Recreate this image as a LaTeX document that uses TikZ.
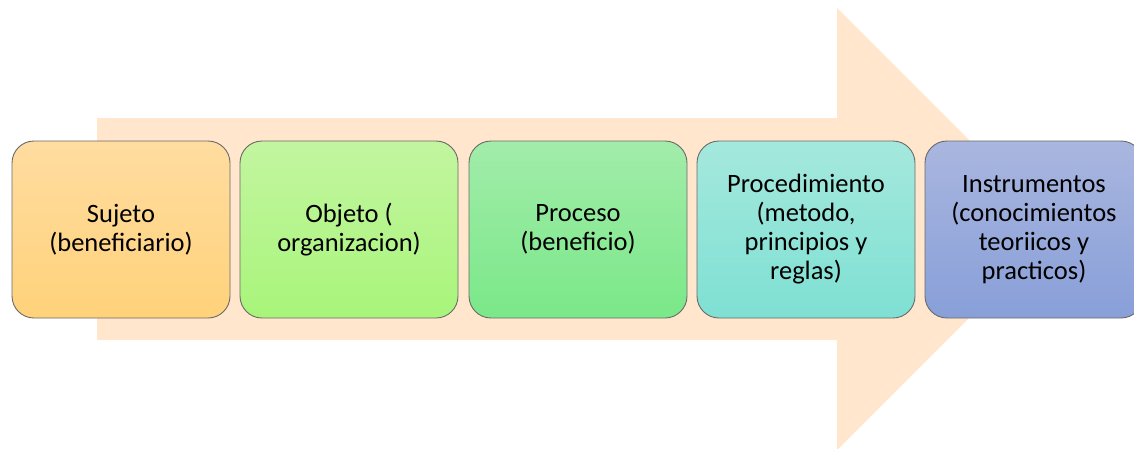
\documentclass[tikz,border=0pt]{standalone}
\usepackage{fontspec}
\setmainfont{Carlito}
\definecolor{arrowfill}{HTML}{FFE6CC}
\definecolor{edge}{HTML}{6A6A6A}
\definecolor{aTop}{HTML}{FFDCA0}\definecolor{aBot}{HTML}{FFD27A}
\definecolor{bTop}{HTML}{C3F5A0}\definecolor{bBot}{HTML}{A8F57A}
\definecolor{cTop}{HTML}{A2ECAA}\definecolor{cBot}{HTML}{7AE888}
\definecolor{dTop}{HTML}{A5E8DD}\definecolor{dBot}{HTML}{7EE0D3}
\definecolor{eTop}{HTML}{A9B6DF}\definecolor{eBot}{HTML}{889FD8}
\begin{document}
\begin{tikzpicture}[x=1pt,y=-1pt,
  box/.style={draw=edge, line width=0.9pt, rounded corners=22pt,
    minimum width=218pt, minimum height=177pt, inner sep=0pt,
    align=center, font=\fontsize{26.5}{29}\selectfont, text=black}]
\useasboundingbox (0,0) rectangle (1134,448);
\begin{scope}
\clip (0,0) rectangle (1134,448);
\fill[arrowfill] (97,118) -- (837,118) -- (837,8) -- (1058,229) -- (837,450) -- (837,340) -- (97,340) -- cycle;
\node[box, top color=aTop, bottom color=aBot] (b1) at (121,229.5) {Sujeto\\(beneficiario)};
\node[box, top color=bTop, bottom color=bBot] (b2) at (349,229.5) {Objeto (\\organizacion)};
\node[box, top color=cTop, bottom color=cBot] (b3) at (578,229.5) {Proceso\\(beneficio)};
\node[box, top color=dTop, bottom color=dBot] (b4) at (806,229.5) {Procedimiento\\(metodo,\\principios y\\reglas)};
\node[box, top color=eTop, bottom color=eBot] (b5) at (1034,229.5) {Instrumentos\\(conocimientos\\teoriicos y\\practicos)};
\end{scope}
\end{tikzpicture}
\end{document}
